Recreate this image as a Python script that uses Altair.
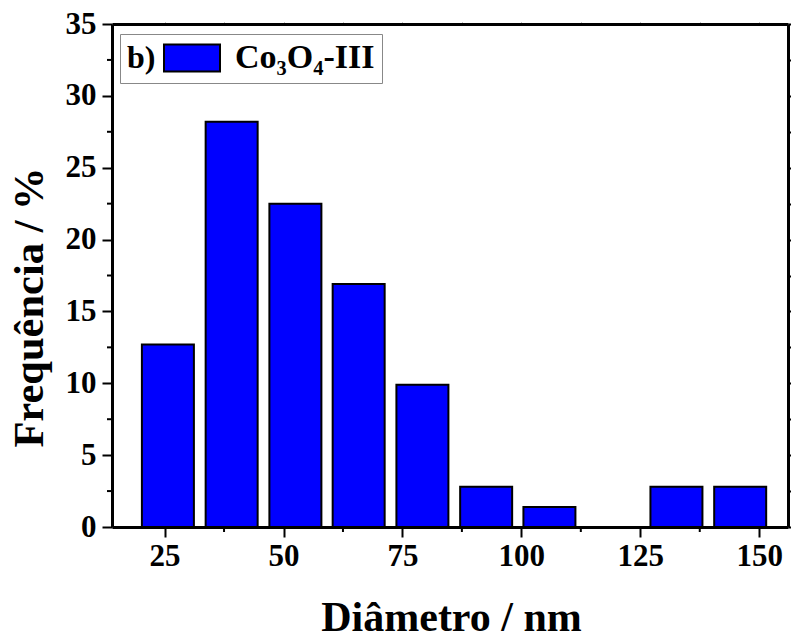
import altair as alt
import pandas as pd

# bin centres (nm) and frequencies (%)
diameters = [25.7, 39.1, 52.5, 65.8, 79.2, 92.6, 105.9, 119.3, 132.6, 146.0]
frequencies = [12.7, 28.2, 22.5, 16.9, 9.9, 2.8, 1.4, 0.0, 2.8, 2.8]
series_name = "Co\u2083O\u2084-III"

x_major = [25, 50, 75, 100, 125, 150]
x_minor = [37.5, 62.5, 87.5, 112.5, 137.5]
y_major = [0, 5, 10, 15, 20, 25, 30, 35]
y_minor = [2.5, 7.5, 12.5, 17.5, 22.5, 27.5, 32.5]
y_all = [v * 2.5 for v in range(15)]

df = pd.DataFrame({"d": diameters, "f": frequencies, "s": [series_name] * len(diameters)})
dfxm = pd.DataFrame({"xm": x_minor})
dfym = pd.DataFrame({"ym": y_minor})

FONT = "Times New Roman"
xscale = alt.Scale(domain=[15, 155], nice=False, zero=False)
yscale = alt.Scale(domain=[0, 35], nice=False)

bars = alt.Chart(df).mark_bar(size=52, stroke="black", strokeWidth=2).encode(
    x=alt.X("d:Q", scale=xscale,
            axis=alt.Axis(values=x_major, title="Diâmetro / nm", grid=False,
                          domainColor="black", domainWidth=3, tickColor="black",
                          tickWidth=2, tickSize=10, labelFont=FONT, labelFontSize=31,
                          labelFontWeight="bold", labelColor="black", labelPadding=4,
                          titleFont=FONT, titleFontSize=42, titleFontWeight="bold",
                          titleColor="black", titleBaseline="alphabetic",
                          titleX=339, titleY=103, titleAlign="center")),
    y=alt.Y("f:Q", scale=yscale,
            axis=alt.Axis(values=y_major, title="Frequência / %", grid=False,
                          domainColor="black", domainWidth=3, tickColor="black",
                          tickWidth=2, tickSize=10, labelFont=FONT, labelFontSize=31,
                          labelFontWeight="bold", labelColor="black", labelPadding=6,
                          titleFont=FONT, titleFontSize=42.5, titleFontWeight="bold",
                          titleColor="black", titleBaseline="alphabetic",
                          titleAngle=-90, titleAlign="center",
                          titleX=-70, titleY=283)),
    fill=alt.Fill("s:N", scale=alt.Scale(range=["#0000ff"]),
                  legend=alt.Legend(title="b)", titleOrient="left", orient="none",
                                    legendX=8, legendY=10, titleFont=FONT,
                                    titleFontSize=32, titleFontWeight="bold",
                                    titleColor="black", titlePadding=19,
                                    titleBaseline="middle", titleAnchor="middle",
                                    labelFont=FONT, labelFontSize=34,
                                    labelFontWeight="bold", labelColor="black",
                                    labelOffset=26,
                                    symbolType="M-2,-0.96H2V0.96H-2Z", symbolSize=784,
                                    symbolStrokeColor="black", symbolStrokeWidth=2,
                                    strokeColor="#888888", padding=7, cornerRadius=0)),
)

frame = alt.Chart(df).mark_point(opacity=0).encode(
    x=alt.X("d:Q", scale=xscale,
            axis=alt.Axis(orient="top", values=x_major + x_minor, labels=False, title=None,
                          grid=False, domainColor="black", domainWidth=3,
                          tickColor="#888888", tickSize=2, tickWidth=1)),
    y=alt.Y("f:Q", scale=yscale,
            axis=alt.Axis(orient="right", values=y_all, labels=False, title=None,
                          grid=False, domainColor="black", domainWidth=3,
                          tickColor="black", tickSize=4, tickWidth=2)),
)

xminor = alt.Chart(dfxm).mark_rule(color="black", strokeWidth=2, clip=False).encode(
    x=alt.X("xm:Q", scale=xscale, axis=None),
    y=alt.value(503), y2=alt.value(508),
)
yminor = alt.Chart(dfym).mark_rule(color="black", strokeWidth=2, clip=False).encode(
    y=alt.Y("ym:Q", scale=yscale, axis=None),
    x=alt.value(0), x2=alt.value(-5),
)

chart = alt.layer(bars, frame, xminor, yminor).resolve_axis(
    x="independent", y="independent"
).properties(
    width=676, height=503,
    autosize=alt.AutoSizeParams(type="none"),
    padding={"left": 112, "top": 24, "right": 3, "bottom": 113},
).configure_view(stroke=None).configure(background="white")

chart.save("out.html", embed_options={"renderer": "svg", "actions": False})
